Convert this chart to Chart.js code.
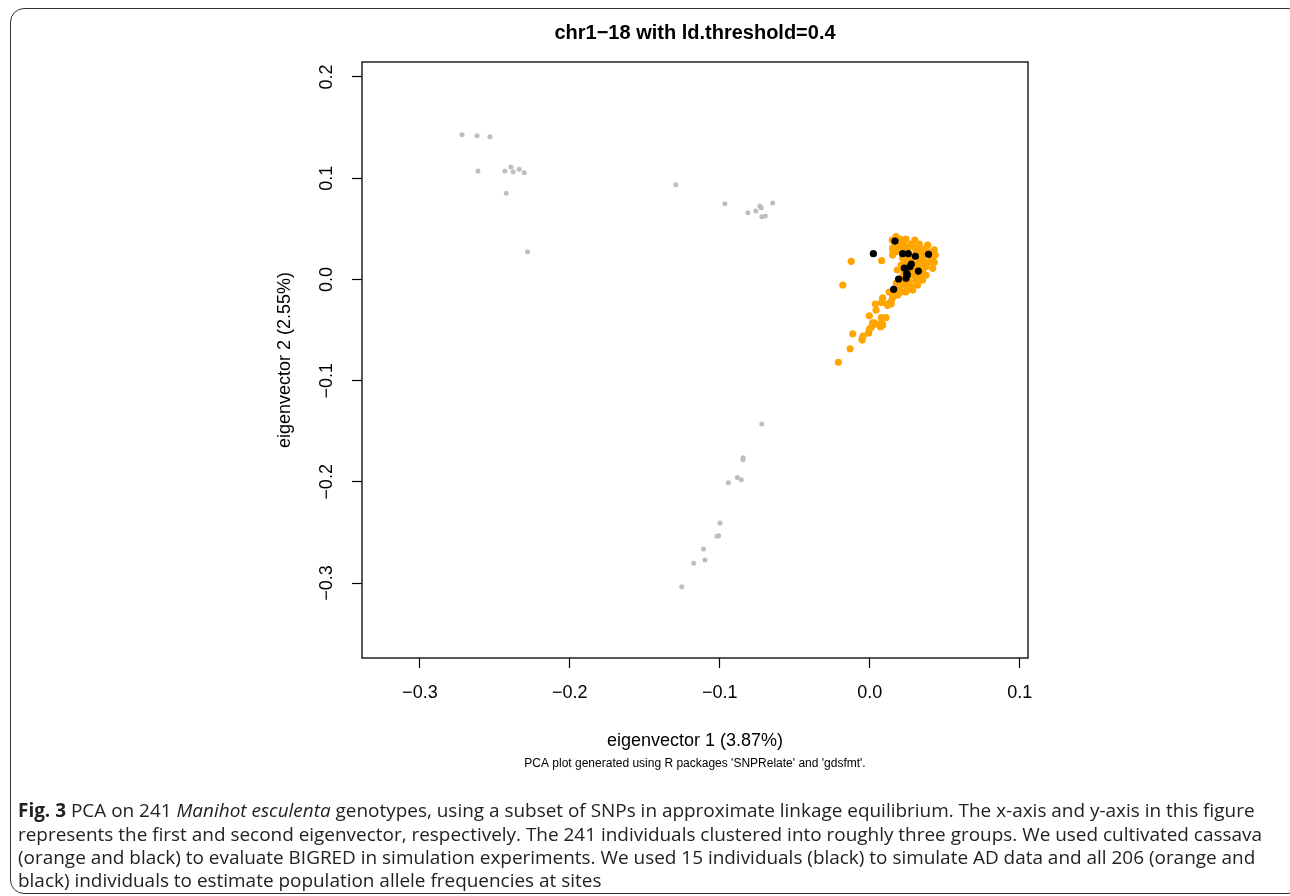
<!DOCTYPE html>
<html>
<head>
<meta charset="utf-8">
<script src="https://cdn.jsdelivr.net/npm/chart.js@4.4.1/dist/chart.umd.min.js"></script>
<style>
  html, body { margin:0; padding:0; background:#fff; width:1290px; height:896px; overflow:hidden; }
  #wrap { position:absolute; left:0; top:0; width:1290px; height:896px; }
  #frame { position:absolute; left:10px; top:8px; width:1292px; height:886px; border:1.5px solid #333; border-radius:14px; box-sizing:border-box; }
  canvas { position:absolute; left:0; top:0; }
  .cap { position:absolute; left:18px; white-space:nowrap; font-family:'Liberation Sans Narrow','Open Sans',sans-serif; font-size:19px; color:#222; transform-origin:0 50%; line-height:1; }
</style>
</head>
<body>
<div id="wrap">
  <div id="frame"></div>
  <canvas id="c" width="1290" height="896"></canvas>
  <div class="cap" id="l1"><b>Fig. 3</b> PCA on 241 <i>Manihot esculenta</i> genotypes, using a subset of SNPs in approximate linkage equilibrium. The x-axis and y-axis in this figure</div>
  <div class="cap" id="l2">represents the first and second eigenvector, respectively. The 241 individuals clustered into roughly three groups. We used cultivated cassava</div>
  <div class="cap" id="l3">(orange and black) to evaluate BIGRED in simulation experiments. We used 15 individuals (black) to simulate AD data and all 206 (orange and</div>
  <div class="cap" id="l4">black) individuals to estimate population allele frequencies at sites</div>
</div>
<script>
// ---- data (eigenvector 1, eigenvector 2) ----
const grayX = [-0.2719,-0.2619,-0.2533,-0.2613,-0.2433,-0.2393,-0.2378,-0.2338,-0.2304,-0.2424,-0.2282,
  -0.1294,-0.0966,-0.0813,-0.0760,-0.0733,-0.0724,-0.0720,-0.0697,-0.0648,
  -0.0720,-0.0844,-0.0846,-0.0883,-0.0857,-0.0943,-0.0999,-0.1019,-0.1008,-0.1108,-0.1099,-0.1174,-0.1254];
const grayY = [0.1430,0.1420,0.1410,0.1071,0.1071,0.1111,0.1064,0.1088,0.1054,0.0851,0.0274,
  0.0936,0.0748,0.0659,0.0676,0.0725,0.0708,0.0620,0.0626,0.0755,
  -0.1429,-0.1762,-0.1782,-0.1956,-0.1979,-0.2009,-0.2407,-0.2536,-0.2533,-0.2664,-0.2773,-0.2805,-0.3037];

const orangeX = [-0.0209,-0.0131,-0.0114,-0.0051,-0.0045,-0.0009,-0.0003,-0.0003,0.0009,0.0019,0.0031,0.0042,0.0037,
  0.0071,0.0077,0.0082,0.0086,0.0108,0.0082,0.0119,0.0130,0.0142,0.0152,0.0157,-0.0180,-0.0124,0.0079,
  0.0079,0.0142,0.0031,0.0075,0.0086,-0.0007,-0.0051,
  0.0175,0.0202,0.0242,0.0164,0.0186,0.0152,0.0208,0.0175,0.0219,0.0264,0.0308,0.0342,0.0364,0.0375,0.0419,
  0.0352,0.0397,0.0430,0.0330,0.0286,0.0375,0.0419,0.0352,0.0286,0.0330,0.0375,0.0264,0.0308,0.0352,0.0219,
  0.0275,0.0319,0.0197,0.0242,0.0286,0.0152,0.0186,0.0152,0.0157,0.0179,
  0.0230,0.0277,0.0317,0.0250,0.0297,0.0210,0.0184,0.0217,0.0177,0.0130,0.0386,0.0150,0.0257,0.0290,0.0383,0.0437,
  0.0240,0.0270,0.0320,0.0340,0.0300,0.0260,0.0230,0.0200,0.0250,0.0310,0.0360,0.0280,
  0.0230,0.0250,0.0210,0.0170,0.0277,0.0330,0.0397,0.0430,0.0210,0.0300,0.0330];
const orangeY = [-0.0819,-0.0685,-0.0537,-0.0586,-0.0559,-0.0530,-0.0493,-0.0359,-0.0473,-0.0428,-0.0428,-0.0302,-0.0243,
  -0.0467,-0.0378,-0.0220,-0.0181,-0.0378,-0.0441,-0.0256,-0.0236,-0.0220,-0.0181,-0.0122,-0.0055,0.0179,0.0185,
  -0.0227,-0.0243,-0.0444,-0.0434,-0.0451,-0.0527,-0.0599,
  0.0422,0.0399,0.0399,0.0357,0.0333,0.0307,0.0291,0.0274,0.0208,0.0208,0.0291,0.0274,0.0300,0.0258,0.0208,
  0.0208,0.0175,0.0169,0.0175,0.0159,0.0125,0.0110,0.0076,0.0043,0.0027,0.0043,-0.0023,-0.0006,-0.0006,-0.0055,
  -0.0072,-0.0055,-0.0105,-0.0122,-0.0105,-0.0137,-0.0154,0.0241,0.0274,0.0323,
  0.0340,0.0350,0.0320,0.0172,0.0113,0.0142,0.0093,0.0024,-0.0036,-0.0124,0.0340,0.0389,0.0310,0.0231,0.0172,0.0241,
  0.0300,0.0190,0.0140,0.0200,0.0050,0.0080,0.0060,0.0000,-0.0030,0.0250,0.0150,0.0330,
  -0.0026,-0.0085,-0.0125,-0.0085,0.0093,0.0132,0.0271,0.0291,0.0360,0.0389,0.0350];

const blackX = [0.0024,0.0168,0.0219,0.0257,0.0304,0.0392,0.0268,0.0324,0.0246,0.0242,0.0192,0.0159,0.0250,0.0277,0.0230];
const blackY = [0.0254,0.0379,0.0254,0.0254,0.0228,0.0248,0.0125,0.0083,0.0060,0.0011,0.0004,-0.0098,0.0044,0.0152,0.0113];

const xTicks = [-0.3,-0.2,-0.1,0.0,0.1];
const yTicks = [-0.3,-0.2,-0.1,0.0,0.1,0.2];
const xRange = [-0.3386, 0.1055];
const yRange = [-0.374, 0.2148];

const titleText = 'chr1\u221218 with ld.threshold=0.4';
const xTitle = 'eigenvector 1 (3.87%)';
const xSubtitle = "PCA plot generated using R packages 'SNPRelate' and 'gdsfmt'.";
const yTitle = 'eigenvector 2 (2.55%)';

function pts(xs, ys){ return xs.map((x,i)=>({x:x, y:ys[i]})); }
function fmt(v){ const s = Math.abs(v).toFixed(1); return (v < -1e-9 ? '\u2212' : '') + s; }

const FONT = "'Liberation Sans', Arial, Helvetica, sans-serif";

const decor = {
  id:'decor',
  afterDraw(chart){
    const ctx = chart.ctx, a = chart.chartArea;
    const xs = chart.scales.x, ys = chart.scales.y;
    ctx.save();
    ctx.strokeStyle = '#000'; ctx.lineWidth = 1.3;
    ctx.strokeRect(a.left, a.top, a.right - a.left, a.bottom - a.top);
    ctx.fillStyle = '#000';
    ctx.font = '18px ' + FONT;
    ctx.textAlign = 'center'; ctx.textBaseline = 'middle';
    xTicks.forEach(v => ctx.fillText(fmt(v), xs.getPixelForValue(v), 693));
    yTicks.forEach(v => {
      ctx.save();
      ctx.translate(327, ys.getPixelForValue(v));
      ctx.rotate(-Math.PI/2);
      ctx.fillText(fmt(v), 0, 0);
      ctx.restore();
    });
    ctx.font = 'bold 20px ' + FONT;
    ctx.fillText(titleText, (a.left + a.right)/2, 33);
    ctx.font = '18px ' + FONT;
    ctx.fillText(xTitle, (a.left + a.right)/2, 741);
    ctx.font = '12px ' + FONT;
    ctx.fillText(xSubtitle, (a.left + a.right)/2, 764);
    ctx.font = '18px ' + FONT;
    ctx.save();
    ctx.translate(285, (a.top + a.bottom)/2);
    ctx.rotate(-Math.PI/2);
    ctx.fillText(yTitle, 0, 0);
    ctx.restore();
    ctx.restore();
  }
};

new Chart(document.getElementById('c'), {
  type:'scatter',
  data:{ datasets:[
    { label:'simulation', data:pts(blackX, blackY), pointRadius:3.6, pointBackgroundColor:'#000', pointBorderWidth:0 },
    { label:'cultivated', data:pts(orangeX, orangeY), pointRadius:3.6, pointBackgroundColor:'#FFA500', pointBorderWidth:0 },
    { label:'other', data:pts(grayX, grayY), pointRadius:2.5, pointBackgroundColor:'#BEBEBE', pointBorderWidth:0 }
  ]},
  options:{
    responsive:false, animation:false, devicePixelRatio:1,
    layout:{ padding:{ top:62, left:0, right:262, bottom:0 } },
    plugins:{ legend:{display:false}, tooltip:{enabled:false}, title:{display:false} },
    scales:{
      x:{ type:'linear', min:xRange[0], max:xRange[1],
          afterBuildTicks:s=>{ s.ticks = xTicks.map(v=>({value:v})); },
          afterFit:s=>{ s.height = 238; },
          ticks:{ display:false },
          border:{ display:false },
          grid:{ display:true, drawOnChartArea:false, drawTicks:true, tickLength:10, tickColor:'#000', tickWidth:1.2 } },
      y:{ type:'linear', min:yRange[0], max:yRange[1],
          afterBuildTicks:s=>{ s.ticks = yTicks.map(v=>({value:v})); },
          afterFit:s=>{ s.width = 362; },
          ticks:{ display:false },
          border:{ display:false },
          grid:{ display:true, drawOnChartArea:false, drawTicks:true, tickLength:10, tickColor:'#000', tickWidth:1.2 } }
    }
  },
  plugins:[decor]
});

// caption fitting
(function(){
  const tops = [811, 835, 858, 881];
  const l2 = document.getElementById('l2');
  const scale = 1244 / l2.getBoundingClientRect().width;
  ['l1','l2','l3','l4'].forEach((id,i)=>{
    const el = document.getElementById(id);
    el.style.top = (tops[i] - 10) + 'px';
    el.style.transform = 'scaleX(' + scale + ')';
  });
})();
</script>
</body>
</html>
